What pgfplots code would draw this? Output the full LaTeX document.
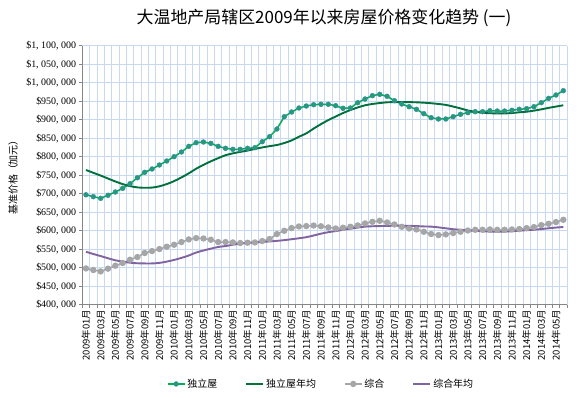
\documentclass[border=0pt]{standalone}
\usepackage{pgfplots}
\pgfplotsset{compat=1.18}
\usepackage{pgfplotstable}
\usepackage{fontspec}
\setmainfont{Noto Sans CJK SC}
\newfontfamily\yserif{Liberation Serif}
\definecolor{detline}{RGB}{0,176,80}
\definecolor{detmark}{RGB}{30,160,110}
\definecolor{detmarkb}{RGB}{70,130,180}
\definecolor{detavg}{RGB}{0,112,60}
\definecolor{compc}{RGB}{166,166,166}
\definecolor{compavg}{RGB}{128,100,162}
\definecolor{gridc}{RGB}{198,217,241}
\definecolor{axisc}{RGB}{134,134,134}

\pgfplotstableread{
i det detavg comp compavg
0 697000 764000 498000 543000
1 692000 756500 493700 537000
2 687500 749000 490000 531500
3 695700 741000 497300 525500
4 704600 733000 505400 520000
5 714500 726000 512600 516500
6 727000 720500 521600 513500
7 743000 717000 528800 512000
8 757800 716000 539700 511500
9 766800 716500 545000 511500
10 777600 720000 550400 513000
11 788400 726000 556700 516500
12 800000 734000 562000 521000
13 812700 744000 569300 526500
14 828000 755000 576400 533000
15 837900 767500 580000 541000
16 839700 778000 579000 546500
17 836000 787500 575500 551500
18 828000 796000 569300 556000
19 822700 804000 569300 558500
20 820000 809000 568300 562000
21 820000 813000 566600 565000
22 822700 816500 567500 567000
23 824300 821000 568300 568500
24 840500 825000 572000 569500
25 854000 828500 577400 571000
26 874900 831600 590900 572500
27 908000 837000 599800 574500
28 920800 844000 607000 577000
29 931600 854000 611400 579500
30 937000 863000 612500 582500
31 940500 876000 614000 587000
32 941600 888000 612000 592000
33 941600 899000 608800 596000
34 937800 908500 606000 599000
35 930800 918000 608000 602500
36 931600 926000 610600 605500
37 946000 933000 614200 608500
38 956000 939000 619600 611000
39 964900 942500 624000 612000
40 968600 945000 626800 612500
41 963200 947000 622300 613000
42 951400 947500 616900 613500
43 942400 947800 610600 613500
44 935100 947500 606000 613000
45 928100 947000 603400 612500
46 916200 946000 597100 611500
47 905400 944500 591000 611000
48 901900 942500 588200 609000
49 901900 940000 590000 606500
50 908100 935500 593600 604000
51 914600 930500 597100 602500
52 918900 925000 600600 601000
53 921600 921500 602500 599500
54 921600 918500 602500 598500
55 924300 917500 603400 597500
56 923500 917000 602500 597300
57 923500 917000 602500 597500
58 925400 918000 603400 598500
59 928100 920000 604400 600000
60 929800 921600 607000 601500
61 935100 924500 609800 602500
62 946000 928000 615200 604500
63 957700 932000 618700 606500
64 966800 935500 623300 608500
65 978400 939000 629500 610000
}\data

\begin{document}
\begin{tikzpicture}
\useasboundingbox (0bp,0bp) rectangle (581bp,398bp);
\node[font=\fontsize{17}{19}\selectfont] at (324bp,380bp) {大温地产局辖区2009年以来房屋价格变化趋势 (一)};
\node[rotate=90, font=\fontsize{10}{12}\selectfont] at (13bp,223bp) {基准价格（加元）};
\begin{axis}[
  at={(82.3bp,93.3bp)}, anchor=south west,
  scale only axis, width=484.7bp, height=259bp,
  xmin=-0.5, xmax=65.5, ymin=400000, ymax=1100000,
  axis x line*=bottom, axis y line*=left,
  axis line style={draw=axisc, line width=0.8pt, -},
  xtick={0,2,...,64},
  xticklabels={2009年01月,2009年03月,2009年05月,2009年07月,2009年09月,2009年11月,
    2010年01月,2010年03月,2010年05月,2010年07月,2010年09月,2010年11月,
    2011年01月,2011年03月,2011年05月,2011年07月,2011年09月,2011年11月,
    2012年01月,2012年03月,2012年05月,2012年07月,2012年09月,2012年11月,
    2013年01月,2013年03月,2013年05月,2013年07月,2013年09月,2013年11月,
    2014年01月,2014年03月,2014年05月},
  major x tick style={draw=none},
  minor xtick={-0.5,0.5,...,65.5},
  xminorgrids=true,
  minor grid style={draw=gridc, line width=0.7pt},
  ytick={400000,450000,500000,550000,600000,650000,700000,750000,800000,850000,900000,950000,1000000,1050000,1100000},
  ymajorgrids=true,
  major grid style={draw=gridc, line width=0.7pt},
  tick align=outside,
  major tick length=3.5bp, minor tick length=3.5bp,
  every tick/.style={draw=axisc, line width=0.6pt},
  xticklabel style={rotate=90, anchor=east, font=\fontsize{9.5}{10}\selectfont, inner sep=1.5bp},
  yticklabel style={font=\yserif\fontsize{10}{12}\selectfont, inner sep=2.5bp},
  scaled y ticks=false,
  /pgf/number format/assume math mode=true,
  yticklabel={\$\pgfmathprintnumber[fixed,precision=0,1000 sep={,\ }]{\tick}},
  legend columns=4,
  legend style={at={(0.4925,-0.306)}, anchor=center, draw=none, fill=none,
    font=\fontsize{10}{12}\selectfont,
    /tikz/every even column/.append style={column sep=26bp}},
  legend cell align=left,
]
\addplot[color=detline, line width=1.5bp, mark=*, mark size=2.4bp,
  mark options={fill=detmark, draw=detmarkb, line width=0.5bp}] table[x=i, y=det] {\data};
\addlegendentry{独立屋}
\addplot[color=detavg, line width=1.9bp, smooth, no marks] table[x=i, y=detavg] {\data};
\addlegendentry{独立屋年均}
\addplot[color=compc, line width=1.5bp, mark=*, mark size=2.4bp,
  mark options={fill=compc, draw=compc}] table[x=i, y=comp] {\data};
\addlegendentry{综合}
\addplot[color=compavg, line width=1.9bp, smooth, no marks] table[x=i, y=compavg] {\data};
\addlegendentry{综合年均}
\end{axis}
\end{tikzpicture}
\end{document}
